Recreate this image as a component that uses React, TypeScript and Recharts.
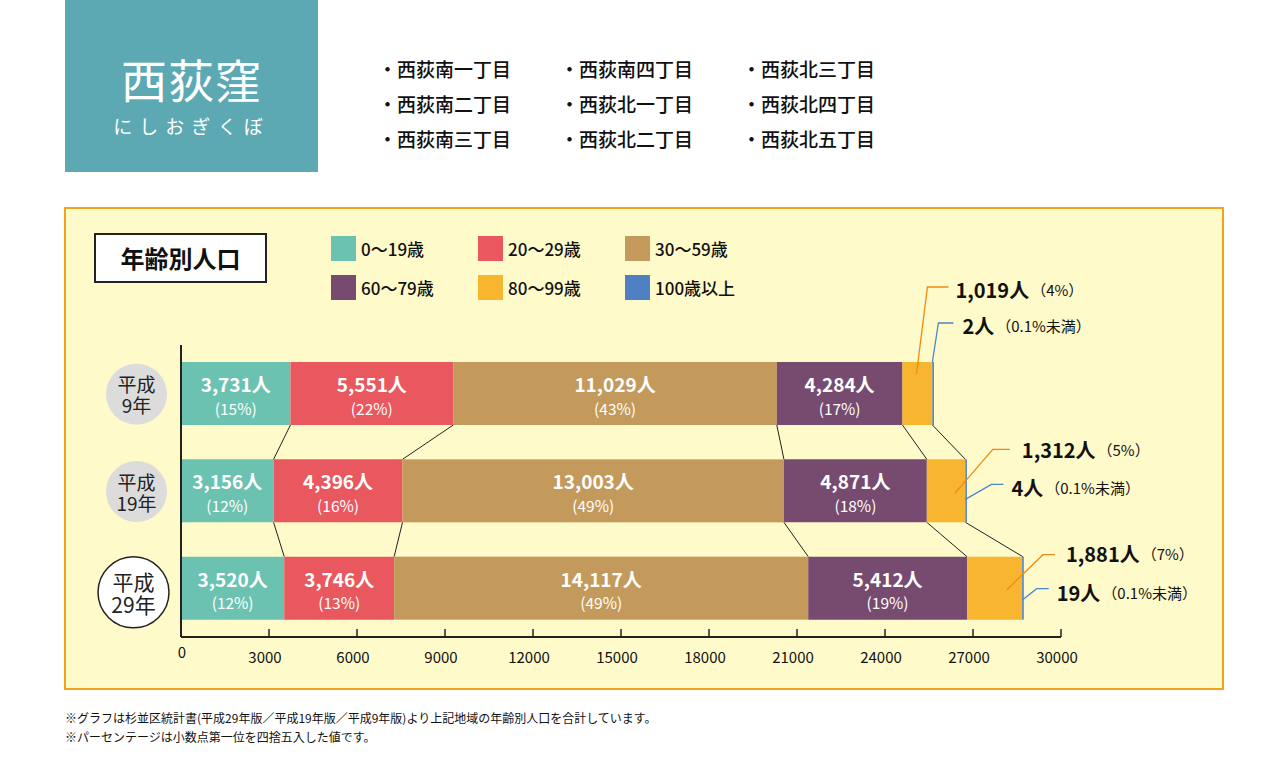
import React from "react";
import { BarChart, Bar, XAxis, YAxis, LabelList } from "recharts";

const years = ["平成9年", "平成19年", "平成29年"];
const ages0to19 = [3731, 3156, 3520];
const ages20to29 = [5551, 4396, 3746];
const ages30to59 = [11029, 13003, 14117];
const ages60to79 = [4284, 4871, 5412];
const ages80to99 = [1019, 1312, 1881];
const ages100plus = [2, 4, 19];
const pct0to19 = ["15%", "12%", "12%"];
const pct20to29 = ["22%", "16%", "13%"];
const pct30to59 = ["43%", "49%", "49%"];
const pct60to79 = ["17%", "18%", "19%"];
const pct80to99 = ["4%", "5%", "7%"];
const pct100plus = ["0.1%未満", "0.1%未満", "0.1%未満"];
const xTicks = [0, 3000, 6000, 9000, 12000, 15000, 18000, 21000, 24000, 27000, 30000];
const districts = [
  ["西荻南一丁目", "西荻南二丁目", "西荻南三丁目"],
  ["西荻南四丁目", "西荻北一丁目", "西荻北二丁目"],
  ["西荻北三丁目", "西荻北四丁目", "西荻北五丁目"],
];
const notes = [
  "※グラフは杉並区統計書(平成29年版／平成19年版／平成9年版)より上記地域の年齢別人口を合計しています。",
  "※パーセンテージは小数点第一位を四捨五入した値です。",
];

const FONT = "'Noto Sans CJK JP', 'Noto Sans', sans-serif";
const PLOT_TOP = 345;
const PLOT_BOTTOM = 637;
const BAND = (PLOT_BOTTOM - PLOT_TOP) / years.length;

const series = [
  { key: "a0", name: "0～19歳", color: "#6cc2b1", values: ages0to19, pct: pct0to19 },
  { key: "a1", name: "20～29歳", color: "#e9585f", values: ages20to29, pct: pct20to29 },
  { key: "a2", name: "30～59歳", color: "#c49a5c", values: ages30to59, pct: pct30to59 },
  { key: "a3", name: "60～79歳", color: "#774a70", values: ages60to79, pct: pct60to79 },
  { key: "a4", name: "80～99歳", color: "#f8b530", values: ages80to99, pct: pct80to99 },
  { key: "a5", name: "100歳以上", color: "#4f80c4", values: ages100plus, pct: pct100plus },
];

const data = years.map((year, i) => {
  const row: any = { year };
  series.forEach((s) => (row[s.key] = s.values[i]));
  return row;
});

// cumulative ends of teal, red, tan, purple, and the whole row
const rowEnds = (i: number) => {
  const out: number[] = [];
  let sum = 0;
  series.forEach((s, j) => {
    sum += s.values[i];
    if (j < 4) out.push(sum);
  });
  out.push(sum);
  return out;
};

const fmt = (v: number) => v.toLocaleString("en-US");

// the tan bar knows its own scale, so it also draws the connector lines to the next row
const TanShape = (props: any) => {
  const { x, y, width, height, index, fill } = props;
  const k = width / ages30to59[index];
  const x0 = x - (ages0to19[index] + ages20to29[index]) * k;
  const lines: React.ReactNode[] = [];
  if (index < years.length - 1) {
    const a = rowEnds(index);
    const b = rowEnds(index + 1);
    a.forEach((v, j) =>
      lines.push(
        <line key={j} x1={x0 + v * k} y1={y + height} x2={x0 + b[j] * k} y2={y + BAND} stroke="#222" strokeWidth={1} />
      )
    );
  }
  return (
    <g>
      <rect x={x} y={y} width={width} height={height} fill={fill} />
      {lines}
    </g>
  );
};

const ThinShape = (props: any) => {
  const { x, y, width, height, fill } = props;
  return <rect x={x} y={y} width={Math.max(width, 1.6)} height={height} fill={fill} />;
};

const innerLabel = (values: number[], pct: string[]) => (props: any) => {
  const { x, y, width, height, index } = props;
  const cx = x + width / 2;
  const cy = y + height / 2;
  return (
    <g fontFamily={FONT} textAnchor="middle">
      <text x={cx} y={cy - 10} fill="#fff" fontSize={19} fontWeight={700} dominantBaseline="central">
        {fmt(values[index])}人
      </text>
      <text x={cx} y={cy + 14} fill="#fff" fontSize={15.5} dominantBaseline="central">
        ({pct[index]})
      </text>
    </g>
  );
};

const orangeCallouts = [
  { sx: 14, sy: 12, cx: 25, cy: -75, ex: 46, tx: 53, ty: -73 },
  { sx: 28, sy: 34, cx: 66, cy: -10, ex: 83, tx: 95, ty: -10 },
  { sx: 40, sy: 33, cx: 76, cy: -2, ex: 88, tx: 99, ty: -4 },
];
const blueCallouts = [
  { sy: 0, cx: 6, cy: -39, ex: 21, tx: 30, ty: -37 },
  { sy: 40, cx: 26, cy: 25, ex: 38, tx: 46, ty: 28 },
  { sy: 43, cx: 14, cy: 32, ex: 26, tx: 34, ty: 35 },
];

const OrangeLabel = (props: any) => {
  const { x, y, index } = props;
  const c = orangeCallouts[index];
  return (
    <g fontFamily={FONT}>
      <polyline
        points={`${x + c.sx},${y + c.sy} ${x + c.cx},${y + c.cy} ${x + c.ex},${y + c.cy}`}
        fill="none"
        stroke="#ef8a10"
        strokeWidth={1.3}
      />
      <text x={x + c.tx} y={y + c.ty} dominantBaseline="central" fill="#111">
        <tspan fontSize={20} fontWeight={700}>{fmt(ages80to99[index])}人</tspan>
        <tspan fontSize={15} dx={2}>（{pct80to99[index]}）</tspan>
      </text>
    </g>
  );
};

const BlueLabel = (props: any) => {
  const { x, y, width, index } = props;
  const ex = x + width;
  const c = blueCallouts[index];
  return (
    <g fontFamily={FONT}>
      <polyline
        points={`${ex},${y + c.sy} ${ex + c.cx},${y + c.cy} ${ex + c.ex},${y + c.cy}`}
        fill="none"
        stroke="#4a86d0"
        strokeWidth={1.3}
      />
      <text x={ex + c.tx} y={y + c.ty} dominantBaseline="central" fill="#111">
        <tspan fontSize={20} fontWeight={700}>{fmt(ages100plus[index])}人</tspan>
        <tspan fontSize={15} dx={2}>（{pct100plus[index]}）</tspan>
      </text>
    </g>
  );
};

const XTick = (props: any) => {
  const { x, y, payload } = props;
  return (
    <g>
      <line x1={x} y1={y} x2={x} y2={y - 8} stroke="#222" strokeWidth={1.5} />
      <text x={payload.value === 0 ? x + 1 : x - 4} y={y + (payload.value === 0 ? 14 : 19)} textAnchor="middle"
        dominantBaseline="central" fontFamily={FONT} fontSize={15} fill="#111">
        {payload.value}
      </text>
    </g>
  );
};

const YTick = (props: any) => {
  const { x, y, payload } = props;
  const label: string = payload.value;
  const i = years.indexOf(label);
  const last = i === years.length - 1;
  const cx = last ? x - 47.5 : x - 44.5;
  const cy = last ? y + 4 : y + 0.5;
  const fs = last ? 21 : 19;
  return (
    <g fontFamily={FONT} textAnchor="middle">
      <circle cx={cx} cy={cy} r={last ? 35.5 : 30.5} fill={last ? "#fff" : "#dcdcdc"} stroke={last ? "#222" : "none"} strokeWidth={1.5} />
      <text x={cx} y={cy - 11} fontSize={fs} fill="#222" dominantBaseline="central">
        <tspan x={cx}>{label.slice(0, 2)}</tspan>
        <tspan x={cx} dy={fs + 2}>{label.slice(2)}</tspan>
      </text>
    </g>
  );
};

export default function App() {
  return (
    <div style={{ position: "absolute", left: 0, top: 0, width: 1280, height: 768, background: "#fff", fontFamily: FONT, overflow: "hidden" }}>
      {/* header */}
      <div style={{ position: "absolute", left: 65, top: 0, width: 253, height: 172, background: "#5ca9b4", color: "#fff", textAlign: "center" }}>
        <div style={{ position: "absolute", left: 0, right: 0, top: 50, fontSize: 46, lineHeight: "56px", fontWeight: 400, letterSpacing: 1 }}>西荻窪</div>
        <div style={{ position: "absolute", left: 0, right: 0, top: 112, fontSize: 19, lineHeight: "28px", letterSpacing: 7 }}>にしおぎくぼ</div>
      </div>
      {districts.map((col, ci) =>
        col.map((d, ri) => (
          <div key={d} style={{ position: "absolute", left: 378 + ci * 182, top: 57 + ri * 35, fontSize: 19, lineHeight: "24px", color: "#111", fontWeight: 500, whiteSpace: "nowrap" }}>
            ・{d}
          </div>
        ))
      )}
      {/* panel */}
      <div style={{ position: "absolute", left: 64, top: 207, width: 1160, height: 483, background: "#fffaca", border: "2px solid #f2a21c", boxSizing: "border-box" }} />
      <div style={{ position: "absolute", left: 94, top: 233, width: 173, height: 50, background: "#fff", border: "2px solid #222", boxSizing: "border-box", fontSize: 24, fontWeight: 700, lineHeight: "46px", textAlign: "center", color: "#111" }}>
        年齢別人口
      </div>
      {series.map((s, i) => (
        <div key={s.key} style={{ position: "absolute", left: 331 + (i % 3) * 147, top: 236 + Math.floor(i / 3) * 39, height: 25, display: "flex", alignItems: "center", whiteSpace: "nowrap" }}>
          <div style={{ width: 25, height: 25, background: s.color }} />
          <span style={{ marginLeft: 5, fontSize: 17, color: "#111", fontWeight: 500 }}>{s.name}</span>
        </div>
      ))}
      <div style={{ position: "absolute", left: 0, top: 0 }}>
        <BarChart width={1280} height={768} data={data} layout="vertical" margin={{ top: PLOT_TOP, right: 219, left: 81, bottom: 768 - PLOT_BOTTOM - 30 }}>
          <XAxis type="number" domain={[0, 30000]} ticks={xTicks} height={30} axisLine={{ stroke: "#222", strokeWidth: 2 }}
            tickLine={false} tickSize={0} tickMargin={0} tick={<XTick />} interval={0} />
          <YAxis type="category" dataKey="year" width={100} axisLine={{ stroke: "#222", strokeWidth: 2 }}
            tickLine={false} tickSize={0} tickMargin={0} tick={<YTick />} />
          <Bar dataKey="a0" stackId="s" barSize={63} fill={series[0].color} isAnimationActive={false}>
            <LabelList content={innerLabel(ages0to19, pct0to19)} />
          </Bar>
          <Bar dataKey="a1" stackId="s" barSize={63} fill={series[1].color} isAnimationActive={false}>
            <LabelList content={innerLabel(ages20to29, pct20to29)} />
          </Bar>
          <Bar dataKey="a2" stackId="s" barSize={63} fill={series[2].color} shape={<TanShape />} isAnimationActive={false}>
            <LabelList content={innerLabel(ages30to59, pct30to59)} />
          </Bar>
          <Bar dataKey="a3" stackId="s" barSize={63} fill={series[3].color} isAnimationActive={false}>
            <LabelList content={innerLabel(ages60to79, pct60to79)} />
          </Bar>
          <Bar dataKey="a4" stackId="s" barSize={63} fill={series[4].color} isAnimationActive={false}>
            <LabelList content={<OrangeLabel />} />
          </Bar>
          <Bar dataKey="a5" stackId="s" barSize={63} fill={series[5].color} shape={<ThinShape />} isAnimationActive={false}>
            <LabelList content={<BlueLabel />} />
          </Bar>
        </BarChart>
      </div>
      {notes.map((n, i) => (
        <div key={i} style={{ position: "absolute", left: 65, top: 710 + i * 19, fontSize: 12, lineHeight: "16px", color: "#111", whiteSpace: "nowrap" }}>
          {n}
        </div>
      ))}
    </div>
  );
}
